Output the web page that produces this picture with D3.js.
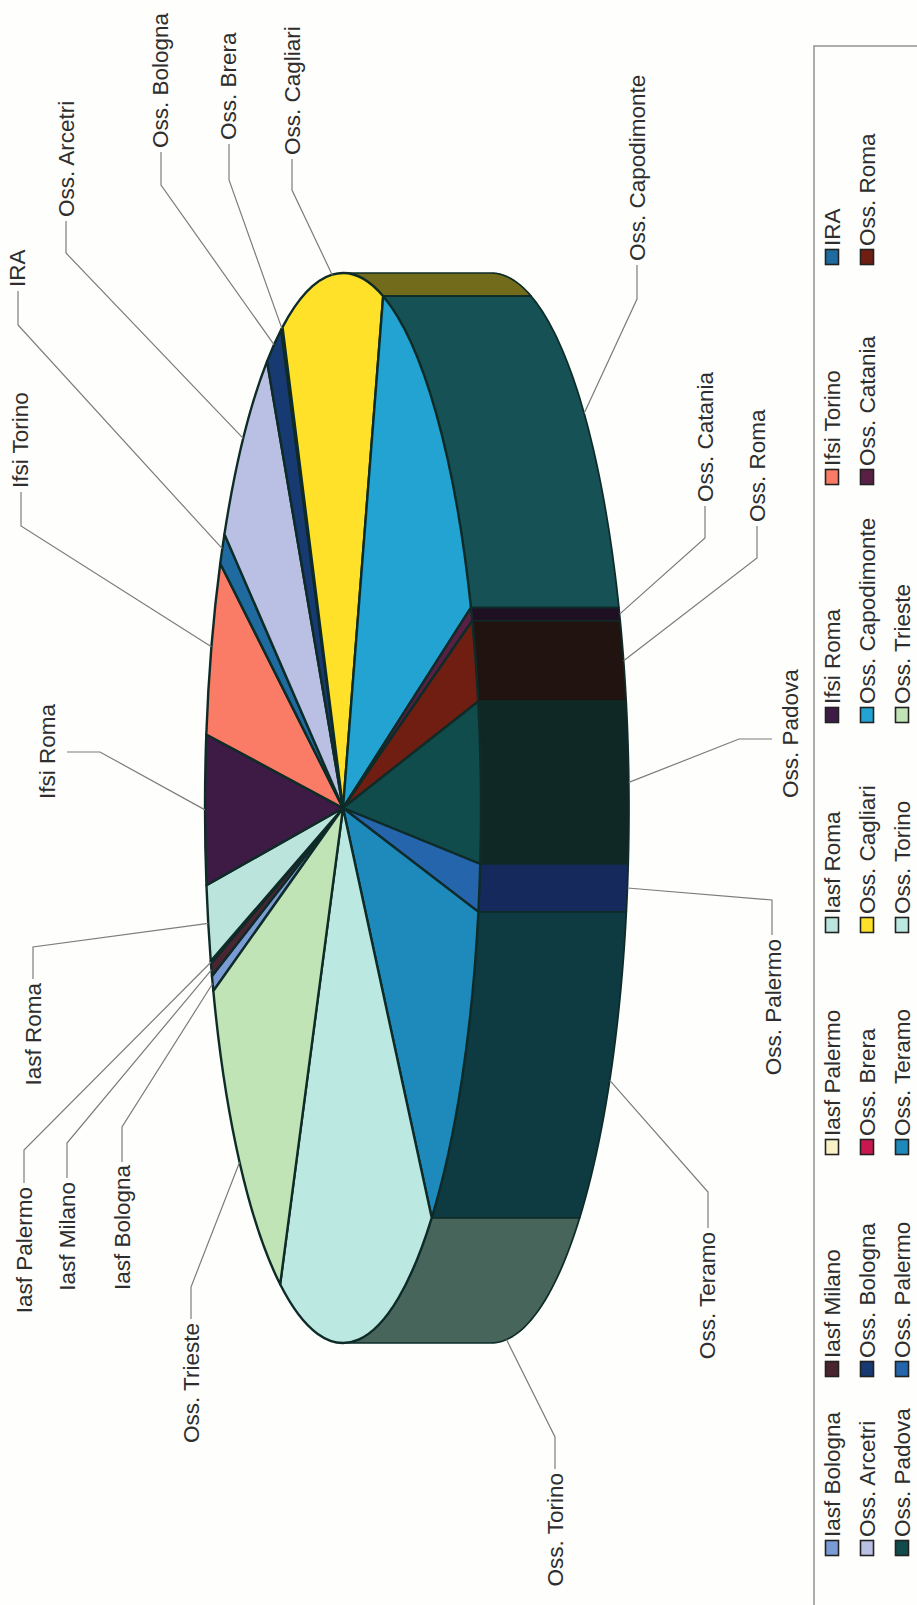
<!DOCTYPE html>
<html>
<head>
<meta charset="utf-8">
<script src="https://cdn.jsdelivr.net/npm/d3@7"></script>
<style>
  html, body { margin: 0; padding: 0; background: #fefefc; }
  svg { display: block; }
  text { font-family: "Liberation Sans", Arial, sans-serif; fill: #2e2e2e; }
</style>
</head>
<body>
<div id="chart"></div>
<script>
// slices in drawing order, clockwise on the page
var names = ["Iasf Bologna","Iasf Milano","Iasf Palermo","Iasf Roma","Ifsi Roma","Ifsi Torino","IRA",
  "Oss. Arcetri","Oss. Bologna","Oss. Brera","Oss. Cagliari","Oss. Capodimonte","Oss. Catania",
  "Oss. Roma","Oss. Padova","Oss. Palermo","Oss. Teramo","Oss. Torino","Oss. Trieste"];
// percent shares
var shares = [0.47,0.39,0.08,2.31,4.5,5.36,1.0,7.17,1.89,0.17,11.92,14.19,0.42,2.5,4.86,1.44,10.78,18.64,11.92];
var topColors = ["#7b9bd4","#4a2430","#f8f2c6","#bbe4dc","#3e1b45","#fb7c66","#1f6a9e","#b9c0e3","#173a72","#c8184f",
  "#ffe12a","#22a3d2","#5a1f44","#701e12","#114c4c","#2565ab","#1e8abc","#bce8e2","#c0e4b6"];
var sideColors = [null,null,null,null,null,null,null,null,null,null,
  "#716b1b","#155155","#1e0f22","#21130f","#0f2826","#15295c","#0e3a42","#47655a",null];
var legendOrder = [
  ["Iasf Bologna","Iasf Milano","Iasf Palermo","Iasf Roma","Ifsi Roma","Ifsi Torino","IRA"],
  ["Oss. Arcetri","Oss. Bologna","Oss. Brera","Oss. Cagliari","Oss. Capodimonte","Oss. Catania","Oss. Roma"],
  ["Oss. Padova","Oss. Palermo","Oss. Teramo","Oss. Torino","Oss. Trieste"]
];

// label placement only: text spot, then the elbow and tail of the leader
var labelLayout = {
  "Iasf Bologna": {x:122, y:1165, anchor:"end", elbow:[122,1127], tail:[122,1162]},
  "Iasf Milano": {x:67, y:1182, anchor:"end", elbow:[67,1143], tail:[67,1178]},
  "Iasf Palermo": {x:24, y:1187, anchor:"end", elbow:[24,1150], tail:[24,1183]},
  "Iasf Roma": {x:33, y:983, anchor:"end", elbow:[33,947], tail:[33,979]},
  "Ifsi Roma": {x:47, y:799, anchor:"start", elbow:[100,752], tail:[67,752]},
  "Ifsi Torino": {x:20, y:488, anchor:"start", elbow:[21,526], tail:[21,492]},
  "IRA": {x:17, y:287, anchor:"start", elbow:[18,325], tail:[18,291]},
  "Oss. Arcetri": {x:66, y:217, anchor:"start", elbow:[66,253], tail:[66,221]},
  "Oss. Bologna": {x:160, y:148, anchor:"start", elbow:[161,185], tail:[161,152]},
  "Oss. Brera": {x:228, y:140, anchor:"start", elbow:[229,180], tail:[229,144]},
  "Oss. Cagliari": {x:292, y:155, anchor:"start", elbow:[292,190], tail:[292,159]},
  "Oss. Capodimonte": {x:637, y:261, anchor:"start", elbow:[637,299], tail:[637,265]},
  "Oss. Catania": {x:705, y:502, anchor:"start", elbow:[705,538], tail:[705,506]},
  "Oss. Roma": {x:757, y:522, anchor:"start", elbow:[757,558], tail:[757,526]},
  "Oss. Padova": {x:790, y:798, anchor:"start", elbow:[739,739], tail:[772,739]},
  "Oss. Palermo": {x:773, y:939, anchor:"end", elbow:[772,900], tail:[772,935]},
  "Oss. Teramo": {x:707, y:1232, anchor:"end", elbow:[708,1192], tail:[708,1228]},
  "Oss. Torino": {x:555, y:1473, anchor:"end", elbow:[555,1437], tail:[555,1469]},
  "Oss. Trieste": {x:191, y:1323, anchor:"end", elbow:[191,1287], tail:[191,1319]}
};
var legendColY = [1548,1369,1147,925,715,477,257];
var legendRowX = [832,867,902];

var width = 917, height = 1605;
var cx = 343, cy = 808, rx = 138, ry = 535;   // top face of the disc
var sideCx = 491, sideRx = 138;               // far edge of the wall
var lineColor = "#0e2b28";

var svg = d3.select("#chart").append("svg")
    .attr("width", width)
    .attr("height", height);

// angles run clockwise from 12 o'clock, first slice starts at 250 deg
var startAngle = 250 * Math.PI / 180;
var pie = d3.pie().sort(null).startAngle(startAngle).endAngle(startAngle + 2 * Math.PI);
var slices = pie(shares);

function topPoint(a){ return [cx + rx * Math.sin(a), cy - ry * Math.cos(a)]; }
function sidePoint(a){ return [sideCx + sideRx * Math.sin(a), cy - ry * Math.cos(a)]; }

// wall is only seen between 0 and 180 deg of the second turn
var wallFrom = 2 * Math.PI, wallTo = 3 * Math.PI;
var line = d3.line();

function wallPath(d){
    var a0 = Math.max(d.startAngle, wallFrom), a1 = Math.min(d.endAngle, wallTo);
    var steps = d3.range(0, 41).map(function(i){ return a0 + (a1 - a0) * i / 40; });
    var pts = steps.map(topPoint).concat(steps.slice().reverse().map(sidePoint));
    return line(pts) + "Z";
}

var walls = slices.filter(function(d){ return d.endAngle > wallFrom && d.startAngle < wallTo; });

svg.append("g").selectAll("path").data(walls).enter().append("path")
    .attr("d", wallPath)
    .attr("fill", function(d){ return sideColors[d.index]; })
    .attr("stroke", lineColor)
    .attr("stroke-width", 1.7)
    .attr("stroke-linejoin", "round");

// top face: unit pie squashed into the ellipse
var arc = d3.arc().innerRadius(0).outerRadius(100);
svg.append("g")
    .attr("transform", "translate(" + cx + "," + cy + ") scale(" + rx / 100 + "," + ry / 100 + ")")
    .selectAll("path").data(slices).enter().append("path")
    .attr("d", arc)
    .attr("fill", function(d){ return topColors[d.index]; })
    .attr("stroke", lineColor)
    .attr("stroke-width", 2.4)
    .attr("stroke-linejoin", "round")
    .attr("vector-effect", "non-scaling-stroke");

// leaders start at the middle of the slice, on the wall when the wall is what shows
function leaderStart(d){
    var mid = (d.startAngle + d.endAngle) / 2;
    return (mid > wallFrom && mid < wallTo) ? sidePoint(mid) : topPoint(mid);
}

svg.append("g").selectAll("path").data(slices).enter().append("path")
    .attr("d", function(d){
        var l = labelLayout[names[d.index]];
        return line([leaderStart(d), l.elbow, l.tail]);
    })
    .attr("fill", "none")
    .attr("stroke", "#7c7c7c")
    .attr("stroke-width", 1.2);

svg.append("g").selectAll("text").data(slices).enter().append("text")
    .attr("transform", function(d){
        var l = labelLayout[names[d.index]];
        return "translate(" + l.x + "," + l.y + ") rotate(-90)";
    })
    .attr("dy", "0.35em")
    .attr("text-anchor", function(d){ return labelLayout[names[d.index]].anchor; })
    .style("font-size", "22.5px")
    .text(function(d){ return names[d.index]; });

// legend box runs off the page on the right and at the bottom
svg.append("rect")
    .attr("x", 814).attr("y", 46)
    .attr("width", 200).attr("height", 1700)
    .attr("fill", "none")
    .attr("stroke", "#9a9a9a")
    .attr("stroke-width", 1.6);

var legendItems = [];
legendOrder.forEach(function(row, r){
    row.forEach(function(name, c){
        legendItems.push({name: name, x: legendRowX[r], y: legendColY[c]});
    });
});

var entry = svg.append("g").selectAll("g").data(legendItems).enter().append("g")
    .attr("transform", function(d){ return "translate(" + d.x + "," + d.y + ")"; });

entry.append("rect")
    .attr("x", -6.5).attr("y", -7.5)
    .attr("width", 13).attr("height", 15)
    .attr("fill", function(d){ return topColors[names.indexOf(d.name)]; })
    .attr("stroke", "#222")
    .attr("stroke-width", 1.6);

entry.append("text")
    .attr("transform", "translate(0,-11) rotate(-90)")
    .attr("dy", "0.35em")
    .style("font-size", "22.5px")
    .text(function(d){ return d.name; });
</script>
</body>
</html>
